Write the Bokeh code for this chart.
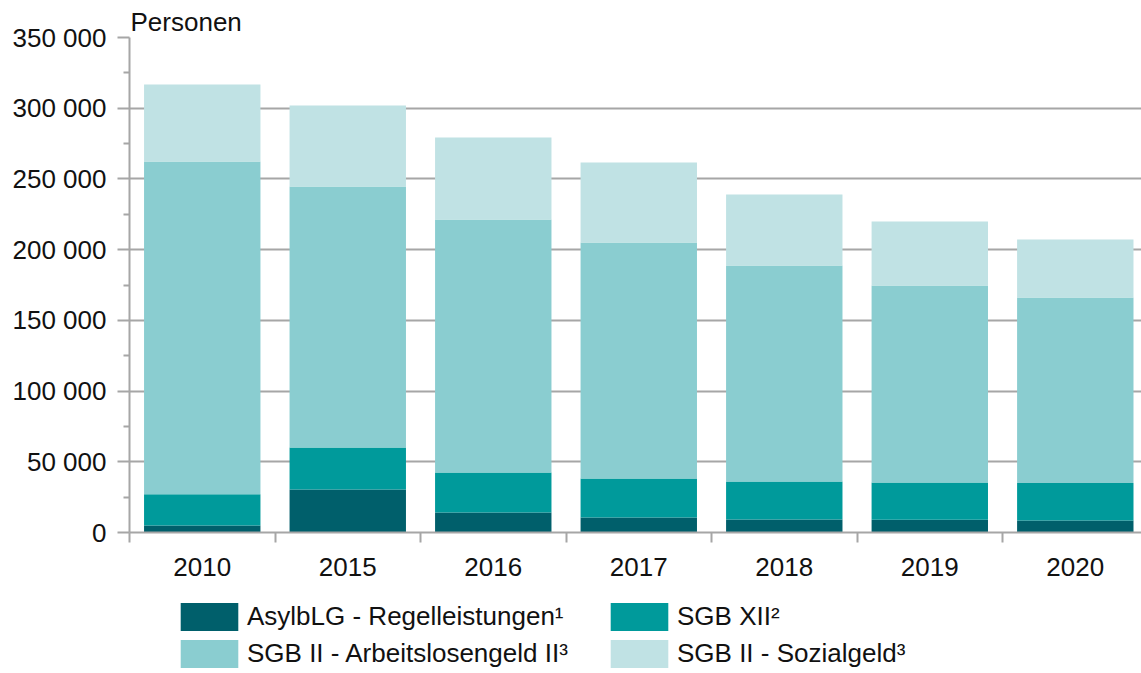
from bokeh.plotting import figure
from bokeh.models import (ColumnDataSource, FixedTicker, Legend, LegendItem, Range1d)
from bokeh.layouts import column
from bokeh.embed import file_html
from bokeh.resources import INLINE

years = ["2010", "2015", "2016", "2017", "2018", "2019", "2020"]
asyl = [5000, 30400, 14100, 10600, 9200, 9000, 8500]
sgb12 = [22000, 29700, 28300, 27600, 26800, 26400, 26500]
alg2 = [235300, 184500, 178900, 166800, 152800, 139200, 131200]
sozial = [54500, 57300, 58000, 56600, 50200, 45300, 41000]

series = ["asyl", "sgb12", "alg2", "sozial"]
labels = ["AsylbLG - Regelleistungen¹", "SGB XII²", "SGB II - Arbeitslosengeld II³", "SGB II - Sozialgeld³"]
colors = ["#005f6b", "#009a9b", "#8acdd0", "#c0e2e4"]
y_ticks = [0, 50000, 100000, 150000, 200000, 250000, 300000, 350000]
y_minor = [25000, 75000, 125000, 175000, 225000, 275000, 325000]

FONT = "Liberation Sans"
FS = "26px"
GRAY = "#a6a6a6"
TXT = "#111111"

xpos = [i + 0.5 for i in range(len(years))]
source = ColumnDataSource(dict(x=xpos, asyl=asyl, sgb12=sgb12, alg2=alg2, sozial=sozial))

p = figure(frame_width=1012, frame_height=495, min_border_left=129, min_border_right=0,
           min_border_top=37, min_border_bottom=58,
           x_range=Range1d(0, 6.955), y_range=Range1d(0, 350000),
           output_backend="svg", toolbar_location=None, background_fill_color="white",
           border_fill_color="white")
p.outline_line_color = None
p.xgrid.grid_line_color = None
p.ygrid.grid_line_color = GRAY
p.ygrid.grid_line_width = 2

p.title.text = "Personen"
p.title.align = "left"
p.title.text_font = FONT
p.title.text_font_size = FS
p.title.text_font_style = "normal"
p.title.text_color = TXT
p.title.standoff = 2
p.title.offset = 1

renderers = p.vbar_stack(series, x="x", width=0.8, color=colors, line_color=None, source=source)

# y axis
yax = p.yaxis[0]
yax.ticker = FixedTicker(ticks=y_ticks, minor_ticks=y_minor)
yax.major_label_overrides = {v: (f"{v:,}".replace(",", " ")) for v in y_ticks}
yax.major_label_text_font = FONT
yax.major_label_text_font_size = FS
yax.major_label_text_color = TXT
yax.major_label_standoff = 11
yax.major_tick_out = 12
yax.major_tick_in = 0
yax.minor_tick_out = 6
yax.minor_tick_in = 0
yax.axis_line_color = GRAY
yax.axis_line_width = 2
yax.major_tick_line_color = GRAY
yax.major_tick_line_width = 2
yax.minor_tick_line_color = GRAY
yax.minor_tick_line_width = 2

# x axis
xax = p.xaxis[0]
xax.ticker = FixedTicker(ticks=xpos, minor_ticks=list(range(len(years) + 1)))
xax.major_label_overrides = {x: y for x, y in zip(xpos, years)}
xax.major_label_text_font = FONT
xax.major_label_text_font_size = FS
xax.major_label_text_color = TXT
xax.major_tick_out = 0
xax.major_tick_in = 0
xax.major_label_standoff = 15
xax.minor_tick_out = 10
xax.minor_tick_in = 0
xax.axis_line_color = GRAY
xax.axis_line_width = 2
xax.minor_tick_line_color = GRAY
xax.minor_tick_line_width = 2

# legend figure below the chart (swatch renderers sit outside its visible range)
q = figure(width=1141, height=81, min_border=0, x_range=Range1d(0, 1), y_range=Range1d(0, 1),
           output_backend="svg", toolbar_location=None, background_fill_color="white",
           border_fill_color="white")
q.outline_line_color = None
q.axis.visible = False
q.grid.grid_line_color = None
swatches = [q.vbar(x=[-10], top=[-10], bottom=[-11], width=0.1, color=c, line_color=None)
            for c in colors]
items = [LegendItem(label=l, renderers=[r]) for l, r in zip(labels, swatches)]
legend = Legend(items=items, ncols=2, orientation="horizontal", location=(44, 0),
                glyph_width=72, glyph_height=35, label_standoff=2, spacing=2,
                label_width=354, padding=0, margin=0, border_line_color=None,
                background_fill_alpha=0, label_text_font=FONT, label_text_font_size=FS,
                label_text_color=TXT)
q.add_layout(legend, "center")

open("out.html", "w").write(file_html(column(p, q, spacing=0), INLINE))
